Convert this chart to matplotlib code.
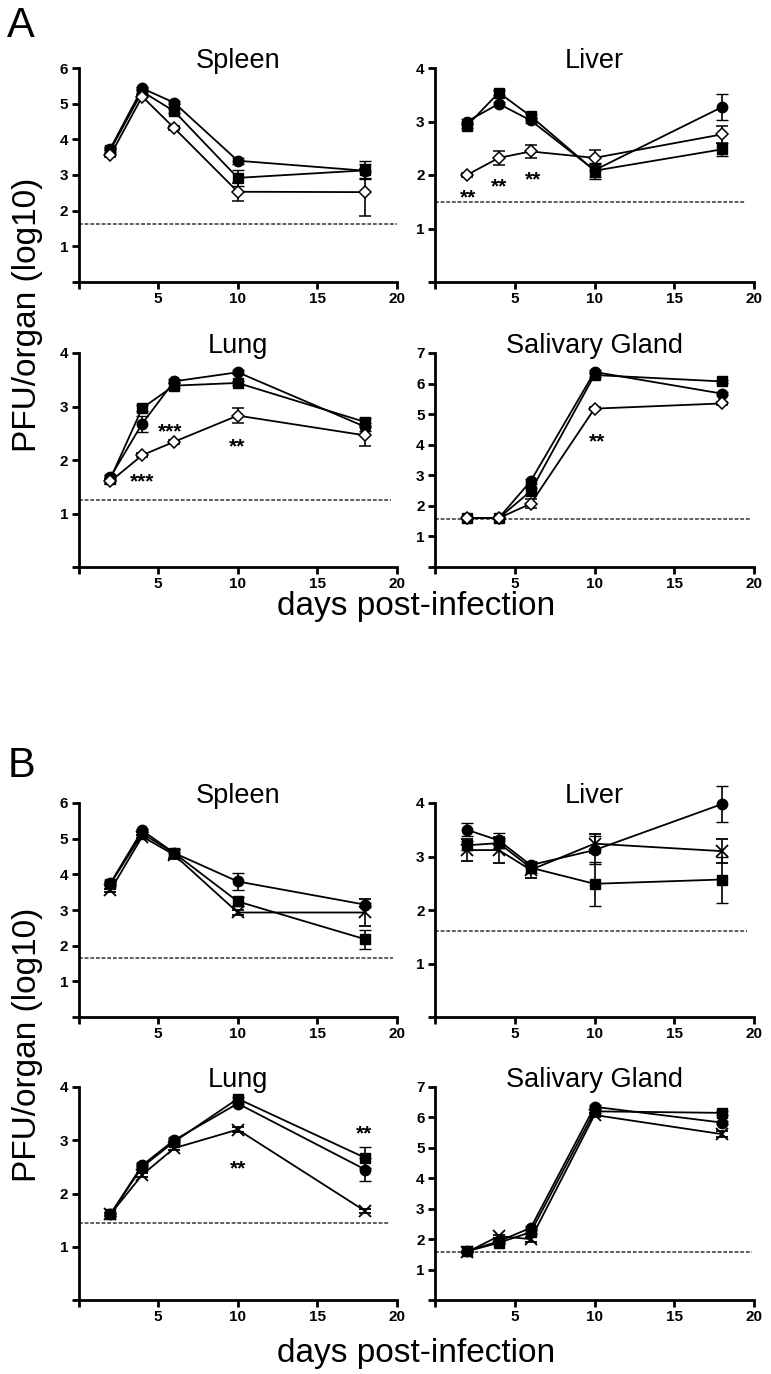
import matplotlib
matplotlib.use("Agg")
import matplotlib.pyplot as plt

plt.rcParams['font.family'] = ['Liberation Sans', 'DejaVu Sans']

days = [2, 4, 6, 10, 18]

# ---------------- Panel A ----------------
A_spleen_circle = [3.74, 5.43, 5.03, 3.40, 3.12]
A_spleen_circle_err = [0.05, 0.05, 0.05, 0.08, 0.20]
A_spleen_square = [3.70, 5.34, 4.79, 2.92, 3.13]
A_spleen_square_err = [0.05, 0.05, 0.05, 0.22, 0.25]
A_spleen_diamond = [3.55, 5.20, 4.32, 2.53, 2.52]
A_spleen_diamond_err = [0.05, 0.05, 0.05, 0.25, 0.66]

A_liver_circle = [3.00, 3.33, 3.02, 2.09, 3.27]
A_liver_circle_err = [0.04, 0.04, 0.04, 0.12, 0.25]
A_liver_square = [2.92, 3.54, 3.10, 2.08, 2.48]
A_liver_square_err = [0.04, 0.04, 0.04, 0.15, 0.12]
A_liver_diamond = [2.00, 2.32, 2.44, 2.32, 2.76]
A_liver_diamond_err = [0.03, 0.13, 0.13, 0.14, 0.16]

A_lung_circle = [1.68, 2.68, 3.47, 3.64, 2.62]
A_lung_circle_err = [0.04, 0.15, 0.04, 0.04, 0.08]
A_lung_square = [1.65, 2.97, 3.39, 3.44, 2.71]
A_lung_square_err = [0.04, 0.05, 0.04, 0.04, 0.08]
A_lung_diamond = [1.60, 2.09, 2.34, 2.83, 2.46]
A_lung_diamond_err = [0.04, 0.04, 0.04, 0.14, 0.19]

A_sg_circle = [1.60, 1.60, 2.81, 6.38, 5.67]
A_sg_circle_err = [0.02, 0.02, 0.08, 0.05, 0.06]
A_sg_square = [1.60, 1.60, 2.48, 6.28, 6.07]
A_sg_square_err = [0.02, 0.02, 0.10, 0.05, 0.05]
A_sg_diamond = [1.60, 1.60, 2.07, 5.18, 5.35]
A_sg_diamond_err = [0.02, 0.02, 0.14, 0.05, 0.05]

# ---------------- Panel B ----------------
B_spleen_circle = [3.75, 5.23, 4.60, 3.80, 3.15]
B_spleen_circle_err = [0.05, 0.05, 0.12, 0.23, 0.06]
B_spleen_square = [3.73, 5.14, 4.60, 3.24, 2.18]
B_spleen_square_err = [0.05, 0.05, 0.12, 0.12, 0.27]
B_spleen_x = [3.55, 5.06, 4.55, 2.93, 2.93]
B_spleen_x_err = [0.05, 0.05, 0.12, 0.08, 0.37]

B_liver_circle = [3.50, 3.30, 2.84, 3.12, 3.98]
B_liver_circle_err = [0.12, 0.14, 0.05, 0.26, 0.33]
B_liver_square = [3.21, 3.25, 2.79, 2.49, 2.57]
B_liver_square_err = [0.08, 0.10, 0.10, 0.41, 0.43]
B_liver_x = [3.12, 3.12, 2.75, 3.24, 3.10]
B_liver_x_err = [0.20, 0.25, 0.15, 0.18, 0.22]

B_lung_circle = [1.61, 2.53, 3.00, 3.69, 2.45]
B_lung_circle_err = [0.03, 0.04, 0.04, 0.04, 0.21]
B_lung_square = [1.61, 2.50, 2.97, 3.78, 2.67]
B_lung_square_err = [0.03, 0.04, 0.04, 0.04, 0.20]
B_lung_x = [1.61, 2.35, 2.85, 3.20, 1.67]
B_lung_x_err = [0.03, 0.04, 0.04, 0.04, 0.03]

B_sg_circle = [1.60, 1.93, 2.37, 6.35, 5.83]
B_sg_circle_err = [0.02, 0.05, 0.06, 0.05, 0.06]
B_sg_square = [1.60, 1.88, 2.23, 6.20, 6.15]
B_sg_square_err = [0.02, 0.05, 0.06, 0.05, 0.06]
B_sg_x = [1.57, 2.10, 2.00, 6.08, 5.45]
B_sg_x_err = [0.02, 0.05, 0.08, 0.05, 0.10]

# detection limits and where their dashed lines end (days)
detection_limit = [1.63, 1.50, 1.26, 1.58, 1.66, 1.61, 1.44, 1.57]
detection_end = [20.0, 19.5, 19.6, 19.75, 19.75, 19.55, 19.55, 19.85]

titles = ["Spleen", "Liver", "Lung", "Salivary Gland"]
ymax = [6, 4, 4, 7]
xticks = [0, 5, 10, 15, 20]
xticklabels = ["", "5", "10", "15", "20"]

# significance stars: (text, day, value)
A_liver_stars = [("**", 2.07, 1.69), ("**", 4.0, 1.90), ("**", 6.15, 2.03)]
A_lung_stars = [("***", 3.99, 1.71), ("***", 5.75, 2.65), ("**", 9.96, 2.36)]
A_sg_stars = [("**", 10.15, 4.29)]
B_lung_stars = [("**", 10.0, 2.58), ("**", 17.9, 3.24)]

A_series = [
    [(A_spleen_circle, A_spleen_circle_err), (A_spleen_square, A_spleen_square_err), (A_spleen_diamond, A_spleen_diamond_err)],
    [(A_liver_circle, A_liver_circle_err), (A_liver_square, A_liver_square_err), (A_liver_diamond, A_liver_diamond_err)],
    [(A_lung_circle, A_lung_circle_err), (A_lung_square, A_lung_square_err), (A_lung_diamond, A_lung_diamond_err)],
    [(A_sg_circle, A_sg_circle_err), (A_sg_square, A_sg_square_err), (A_sg_diamond, A_sg_diamond_err)],
]
B_series = [
    [(B_spleen_circle, B_spleen_circle_err), (B_spleen_square, B_spleen_square_err), (B_spleen_x, B_spleen_x_err)],
    [(B_liver_circle, B_liver_circle_err), (B_liver_square, B_liver_square_err), (B_liver_x, B_liver_x_err)],
    [(B_lung_circle, B_lung_circle_err), (B_lung_square, B_lung_square_err), (B_lung_x, B_lung_x_err)],
    [(B_sg_circle, B_sg_circle_err), (B_sg_square, B_sg_square_err), (B_sg_x, B_sg_x_err)],
]
A_stars = [[], A_liver_stars, A_lung_stars, A_sg_stars]
B_stars = [[], [], B_lung_stars, []]

W, H = 771, 1374
fig = plt.figure(figsize=(W / 100, H / 100), dpi=100)

col_left = [78.5, 435]
col_width = [318.5, 319]
row_top = [68, 353, 803, 1087]
row_height = [214, 214, 214, 213]

styles_A = [
    dict(marker='o', ms=7.5, mfc='black', mec='black', mew=1.0),
    dict(marker='s', ms=7.0, mfc='black', mec='black', mew=1.0),
    dict(marker='D', ms=6.0, mfc='white', mec='black', mew=1.1),
]
styles_B = [
    dict(marker='o', ms=7.5, mfc='black', mec='black', mew=1.0),
    dict(marker='s', ms=7.0, mfc='black', mec='black', mew=1.0),
    dict(marker='x', ms=9.0, mfc='none', mec='black', mew=1.3),
]


def make_axes(r, c):
    left = col_left[c] / W
    bottom = 1 - (row_top[r] + row_height[r]) / H
    ax = fig.add_axes([left, bottom, col_width[c] / W, row_height[r] / H])
    return ax


def draw_panel(ax, idx, series, styles, stars, lod, lod_end, title, ym):
    for (vals, errs), st in zip(series, styles):
        ax.errorbar(days, vals, yerr=errs, color='black', lw=1.3,
                    elinewidth=1.2, capsize=4, capthick=1.2, clip_on=False,
                    zorder=3, **st)
    ax.plot([0, lod_end], [lod, lod], color='#333333', lw=1.1,
            dashes=(2.5, 1.2), zorder=2, clip_on=False)
    for s, x, y in stars:
        ax.annotate(s, xy=(x, y), xytext=(0, -8.5), textcoords='offset points',
                    ha='center', va='baseline', fontsize=15, fontweight='bold')
    ax.set_xlim(0, 20)
    ax.set_ylim(0, ym)
    ax.set_xticks(xticks)
    ax.set_xticklabels(xticklabels)
    yt = list(range(0, ym + 1))
    ax.set_yticks(yt)
    ax.set_yticklabels([""] + [str(v) for v in yt[1:]])
    for sp in ['top', 'right']:
        ax.spines[sp].set_visible(False)
    for sp in ['left', 'bottom']:
        ax.spines[sp].set_linewidth(2.0)
    ax.tick_params(axis='both', direction='out', length=5, width=2.0,
                   labelsize=11, pad=2.5)
    for lab in ax.get_xticklabels() + ax.get_yticklabels():
        lab.set_fontweight('bold')
    ax.text(0.5, 1.0, title, transform=ax.transAxes, ha='center',
            va='baseline', fontsize=19.5)


for block, (series_list, styles, stars_list, off) in enumerate(
        [(A_series, styles_A, A_stars, 0), (B_series, styles_B, B_stars, 4)]):
    for i in range(4):
        r = block * 2 + i // 2
        c = i % 2
        ax = make_axes(r, c)
        draw_panel(ax, i, series_list[i], styles, stars_list[i],
                   detection_limit[off + i], detection_end[off + i],
                   titles[i], ymax[i])

# panel letters
fig.text(7 / W, 1 - 37 / H, "A", fontsize=30, ha='left', va='baseline')
fig.text(8 / W, 1 - 777 / H, "B", fontsize=30, ha='left', va='baseline')

# axis labels
fig.text(416 / W, 1 - 615 / H, "days post-infection", fontsize=24,
         ha='center', va='baseline')
fig.text(416 / W, 1 - 1362 / H, "days post-infection", fontsize=24,
         ha='center', va='baseline')
fig.text(36 / W, 1 - 315 / H, "PFU/organ (log10)", fontsize=24,
         rotation=90, ha='center', va='baseline', rotation_mode='anchor')
fig.text(36 / W, 1 - 1045 / H, "PFU/organ (log10)", fontsize=24,
         rotation=90, ha='center', va='baseline', rotation_mode='anchor')

fig.savefig("out.png", dpi=100)
